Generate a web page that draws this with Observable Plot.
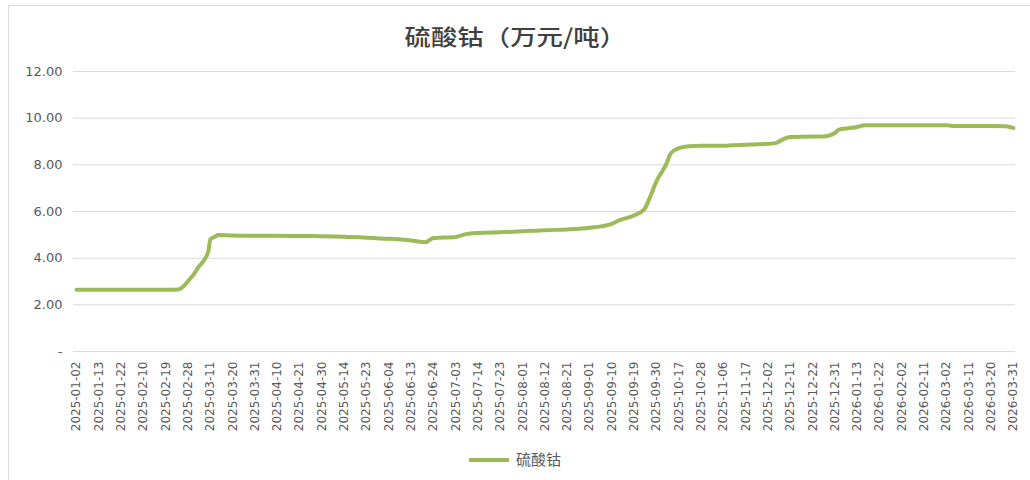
<!DOCTYPE html>
<html>
<head>
<meta charset="utf-8">
<script src="https://cdn.jsdelivr.net/npm/d3@7"></script>
<script src="https://cdn.jsdelivr.net/npm/@observablehq/plot@0.6"></script>
<style>
  html, body { margin: 0; padding: 0; background: #fff; }
  #wrap { position: relative; width: 1030px; height: 480px; overflow: hidden; }
  #frame { position: absolute; left: 8px; top: 5px; width: 1100px; height: 600px;
           border-left: 1px solid #d9d9d9; border-top: 1px solid #d9d9d9; }
  #title { position: absolute; left: 0; top: 19px; width: 1030px; text-align: center;
           font-family: "Noto Sans CJK SC", sans-serif; font-size: 22px; font-weight: 500;
           color: #404040; }
  #title span { display: inline-block; transform: scaleX(1.2); }
  #chart { position: absolute; left: 0; top: 55px; }
  #legend { position: absolute; left: 0; top: 448px; width: 1030px; text-align: center;
            font-family: "Noto Sans CJK SC", sans-serif; font-size: 15px; color: #595959; }
  #legend .sw { display: inline-block; width: 40px; height: 4px; background: #9BBB59;
                vertical-align: middle; margin-right: 7px; position: relative; top: -1px; }
</style>
</head>
<body>
<div id="wrap">
  <div id="frame"></div>
  <div id="title"><span>硫酸钴（万元/吨）</span></div>
  <div id="chart"></div>
  <div id="legend"><span class="sw"></span>硫酸钴</div>
</div>
<script>
// Category tick labels on the x axis
const tickLabels = [
  "2025-01-02","2025-01-13","2025-01-22","2025-02-10","2025-02-19","2025-02-28",
  "2025-03-11","2025-03-20","2025-03-31","2025-04-10","2025-04-21","2025-04-30",
  "2025-05-14","2025-05-23","2025-06-04","2025-06-13","2025-06-24","2025-07-03",
  "2025-07-14","2025-07-23","2025-08-01","2025-08-12","2025-08-21","2025-09-01",
  "2025-09-10","2025-09-19","2025-09-30","2025-10-17","2025-10-28","2025-11-06",
  "2025-11-17","2025-12-02","2025-12-11","2025-12-22","2025-12-31","2026-01-13",
  "2026-01-22","2026-02-02","2026-02-11","2026-03-02","2026-03-11","2026-03-20",
  "2026-03-31"
];

// Series: dates and cobalt sulfate price (万元/吨)
const dates = [
  "2025-01-02","2025-01-13","2025-01-22","2025-02-10","2025-02-19","2025-02-24",
  "2025-02-27","2025-02-28","2025-03-03","2025-03-05","2025-03-07","2025-03-10",
  "2025-03-11","2025-03-13","2025-03-14","2025-03-20","2025-03-31","2025-04-10",
  "2025-04-21","2025-04-30","2025-05-14","2025-05-23","2025-06-04","2025-06-13",
  "2025-06-20","2025-06-24","2025-07-03","2025-07-08","2025-07-14","2025-07-23",
  "2025-08-01","2025-08-12","2025-08-21","2025-09-01","2025-09-10","2025-09-12",
  "2025-09-19","2025-09-24","2025-09-26","2025-09-30","2025-10-09","2025-10-10",
  "2025-10-13","2025-10-17","2025-10-22","2025-10-28","2025-11-06","2025-11-10",
  "2025-11-17","2025-12-02","2025-12-05","2025-12-09","2025-12-11","2025-12-22",
  "2025-12-26","2025-12-31","2026-01-02","2026-01-08","2026-01-13","2026-01-16",
  "2026-01-22","2026-02-02","2026-02-11","2026-03-02","2026-03-05","2026-03-11",
  "2026-03-20","2026-03-27","2026-03-31"
];
const prices = [
  2.65, 2.65, 2.65, 2.65, 2.65, 2.66,
  2.89, 3.02, 3.33, 3.60, 3.81, 4.30,
  4.80, 4.93, 4.99, 4.97, 4.96, 4.96,
  4.95, 4.94, 4.92, 4.88, 4.83, 4.76,
  4.68, 4.86, 4.91, 5.03, 5.08, 5.11,
  5.15, 5.20, 5.23, 5.30, 5.47, 5.58,
  5.84, 6.10, 6.45, 7.30, 8.25, 8.42,
  8.60, 8.72, 8.80, 8.82, 8.82, 8.84,
  8.86, 8.90, 8.93, 9.14, 9.19, 9.21,
  9.21, 9.36, 9.50, 9.57, 9.62, 9.70,
  9.70, 9.70, 9.70, 9.70, 9.66, 9.66,
  9.66, 9.65, 9.58
];

const yTicks = [0, 2, 4, 6, 8, 10, 12];

// Map dates onto the category axis (tick label index), piecewise between labelled dates
const parse = d3.utcParse("%Y-%m-%d");
const toIndex = d3.scaleUtc()
  .domain(tickLabels.map(parse))
  .range(tickLabels.map((_, i) => i));

const data = dates.map((d, i) => ({ idx: toIndex(parse(d)), value: prices[i] }));

const chart = Plot.plot({
  width: 1030,
  height: 390,
  marginLeft: 73,
  marginRight: 15,
  marginTop: 16,
  marginBottom: 94,
  style: { fontFamily: "DejaVu Sans, sans-serif", fontSize: "12px", color: "#595959", background: "transparent" },
  x: { type: "linear", domain: [0, tickLabels.length - 1], insetLeft: 3, insetRight: 2 },
  y: { domain: [0, 12] },
  marks: [
    Plot.ruleY(yTicks, { stroke: "#d9d9d9", strokeWidth: 1 }),
    Plot.axisY({
      ticks: yTicks,
      tickFormat: d => d === 0 ? "-" : d.toFixed(2),
      tickSize: 0, tickPadding: 11, fontSize: 13, label: null
    }),
    Plot.axisX({
      ticks: d3.range(tickLabels.length),
      tickFormat: i => tickLabels[i],
      tickRotate: -90, tickSize: 0, tickPadding: 10, fontSize: 12, label: null
    }),
    Plot.line(data, {
      x: "idx", y: "value", stroke: "#9BBB59", strokeWidth: 4,
      curve: "monotone-x", strokeLinejoin: "round", strokeLinecap: "round"
    })
  ]
});
document.getElementById("chart").appendChild(chart);
</script>
</body>
</html>
